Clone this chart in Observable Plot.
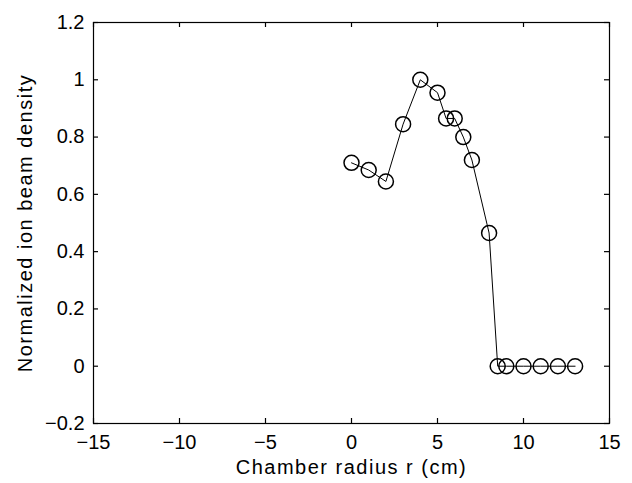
<!DOCTYPE html>
<html>
<head>
<meta charset="utf-8">
<script src="https://cdn.jsdelivr.net/npm/d3@7"></script>
<script src="https://cdn.jsdelivr.net/npm/@observablehq/plot@0.6"></script>
<style>
  html, body { margin: 0; padding: 0; background: #fff; }
  #chart svg { display: block; }
  #chart g[aria-label="x-axis label"] text,
  #chart g[aria-label="y-axis label"] text { letter-spacing: 1.5px; }
</style>
</head>
<body>
<div id="chart"></div>
<script>
const radius = [0, 1, 2, 3, 4, 5, 5.5, 6, 6.5, 7, 8, 8.5, 9, 10, 11, 12, 13];
const density = [0.71, 0.685, 0.645, 0.845, 1.0, 0.955, 0.865, 0.865, 0.8, 0.72, 0.465, 0, 0, 0, 0, 0, 0];
const xTicks = [-15, -10, -5, 0, 5, 10, 15];
const yTicks = [-0.2, 0, 0.2, 0.4, 0.6, 0.8, 1, 1.2];
const xLabel = "Chamber radius r (cm)";
const yLabel = "Normalized ion beam density";

const data = radius.map((r, i) => ({r, d: density[i]}));

const W = 632, H = 483;
const mL = 93, mR = 23, mT = 22, mB = 60;
const innerW = W - mL - mR, innerH = H - mT - mB;
const tl = 5;

const fmtY = d => d === 0 ? "0" : (d === 1 ? "1" : d3.format(".1f")(d).replace("-", "\u2212"));
const fmtX = d => String(d).replace("-", "\u2212");

const chart = Plot.plot({
  width: W,
  height: H,
  marginLeft: mL,
  marginRight: mR,
  marginTop: mT,
  marginBottom: mB,
  style: {fontFamily: "'Liberation Sans', Arial, sans-serif", fontSize: "20px", color: "black", background: "white"},
  x: {domain: [-15, 15]},
  y: {domain: [-0.2, 1.2]},
  marks: [
    Plot.frame({stroke: "black", strokeWidth: 1.2}),
    Plot.tickX(xTicks, {x: d => d, stroke: "black", strokeWidth: 1.2, insetTop: innerH - tl}),
    Plot.tickX(xTicks, {x: d => d, stroke: "black", strokeWidth: 1.2, insetBottom: innerH - tl}),
    Plot.tickY(yTicks, {y: d => d, stroke: "black", strokeWidth: 1.2, insetRight: innerW - tl}),
    Plot.tickY(yTicks, {y: d => d, stroke: "black", strokeWidth: 1.2, insetLeft: innerW - tl}),
    Plot.axisX({ticks: xTicks, tickSize: 0, tickPadding: 11, tickFormat: fmtX,
      label: xLabel, labelAnchor: "center", labelArrow: "none", labelOffset: 50}),
    Plot.axisY({ticks: yTicks, tickSize: 0, tickPadding: 9, tickFormat: fmtY,
      label: yLabel, labelAnchor: "center", labelArrow: "none", labelOffset: 76}),
    Plot.line(data, {x: "r", y: "d", stroke: "black", strokeWidth: 1}),
    Plot.dot(data, {x: "r", y: "d", r: 7.5, stroke: "black", strokeWidth: 1.5, fill: "none"})
  ]
});
document.getElementById("chart").appendChild(chart);
</script>
</body>
</html>
